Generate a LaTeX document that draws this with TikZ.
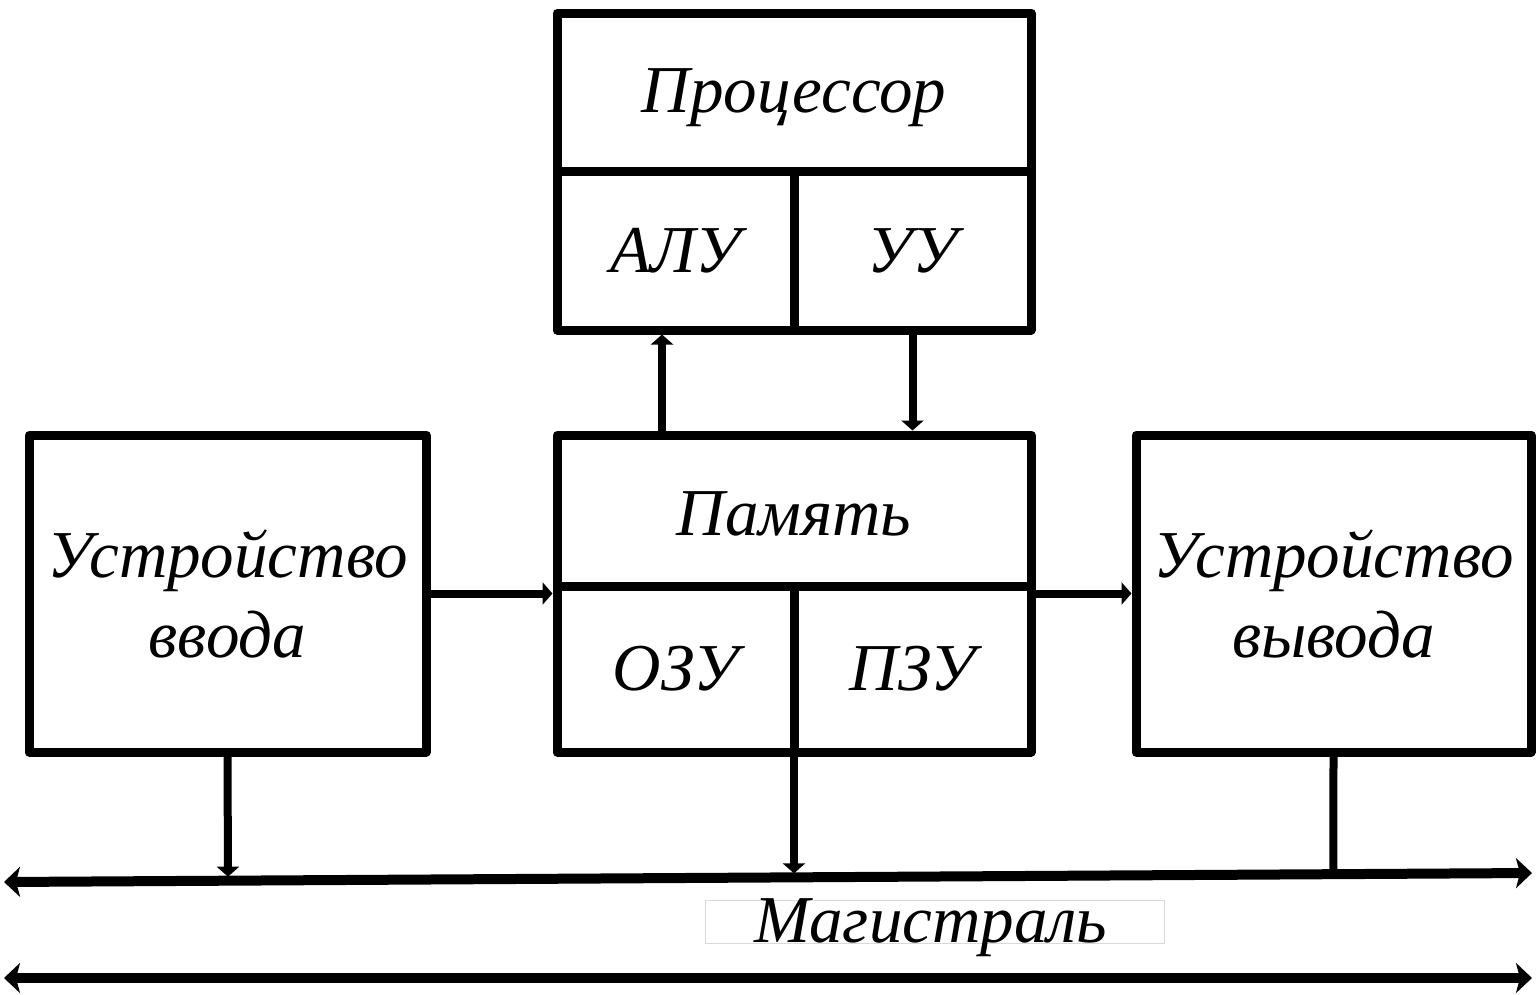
\documentclass[tikz,border=0pt]{standalone}
\usepackage{fontspec}
\setmainfont{Liberation Serif}
\usetikzlibrary{arrows.meta,calc}
\begin{document}
\begin{tikzpicture}[x=1pt,y=-1pt,
  cell/.style={draw, rectangle, line width=9pt, line join=round, inner sep=0pt,
    font=\fontsize{67}{80}\selectfont\itshape, align=center},
  caption/.style={inner sep=0pt, font=\fontsize{67}{80}\selectfont\itshape},
  link/.style={line width=8pt, -{Triangle[length=10pt,width=22pt]}},
  busline/.style={line width=10pt,
    {Stealth[length=16pt,width=30pt,inset=4pt]}-{Stealth[length=16pt,width=30pt,inset=4pt]}}]
\useasboundingbox (0,0) rectangle (1537,994);

% processor block
\node[cell, minimum width=474pt, minimum height=158pt] (proc) at (794,92) {};
\node[caption, yshift=-6pt] (proctext) at (proc) {Процессор};
\node[cell, minimum width=237pt, minimum height=159pt] (alu) at (675.5,250.5) {АЛУ};
\node[cell, minimum width=237pt, minimum height=159pt] (uu) at (912.5,250.5) {УУ};

% memory block
\node[cell, minimum width=474pt, minimum height=151pt] (mem) at (794,510.5) {};
\node[caption, yshift=-3pt] (memtext) at (mem) {Память};
\node[cell, minimum width=237pt, minimum height=166pt] (ozu) at (675.5,669) {ОЗУ};
\node[cell, minimum width=237pt, minimum height=166pt] (pzu) at (912.5,669) {ПЗУ};

% peripherals
\node[cell, minimum width=397pt, minimum height=317pt] (in) at (227.5,593.5) {Устройство\\ввода};
\node[cell, minimum width=395pt, minimum height=317pt] (out) at (1333.5,593.5) {Устройство\\вывода};

% processor <-> memory
\coordinate (upx) at ([xshift=-13.5pt]alu.south);
\draw[link] (upx |- mem.north) -- (upx);
\draw[link] (uu.south) -- (uu.south |- mem.north);

% data flow through memory
\draw[link] (in.east) -- (in.east -| mem.west);
\draw[link] (in.east -| mem.east) -- (in.east -| out.west);

% system bus
\coordinate (busL) at (4,882);
\coordinate (busR) at (1532,873);
\coordinate (b1) at ($(busL)!0.1466!(busR)$);
\coordinate (b2) at ($(busL)!0.517!(busR)$);
\coordinate (b3) at ($(busL)!0.870!(busR)$);
\draw[busline] (busL) -- (busR);
\draw[link, shorten >=4pt] (in.south) -- (b1);
\draw[link, shorten >=4pt] (b2 |- ozu.south) -- (b2);
\draw[line width=8pt] (out.south) -- (b3);

\node[draw=gray!30, line width=1pt, minimum width=459pt, minimum height=43pt, inner sep=0pt]
  (magbox) at (934.5,921.5) {};
\node[caption, anchor=base] (mag) at (931,942) {Магистраль};

\coordinate (bus2L) at (4,978);
\coordinate (bus2R) at (1532,978);
\draw[busline] (bus2L) -- (bus2R);
\end{tikzpicture}
\end{document}
